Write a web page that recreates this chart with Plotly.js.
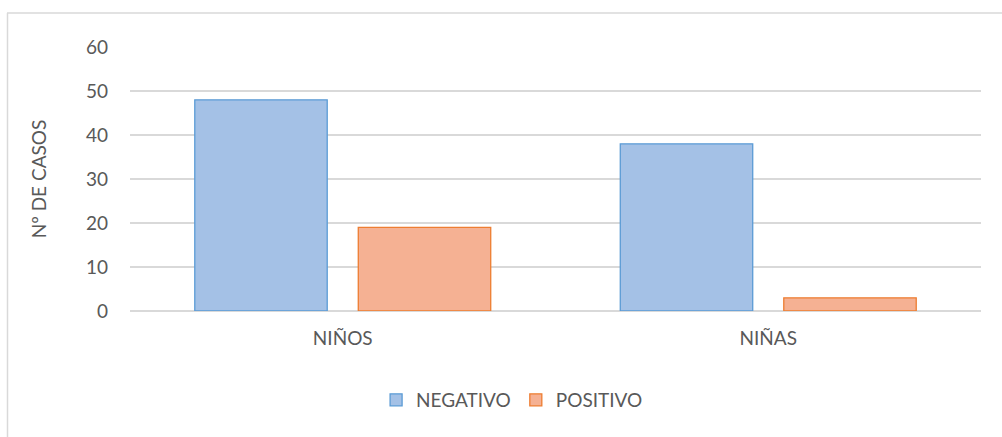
<!DOCTYPE html>
<html>
<head>
<meta charset="utf-8">
<script src="https://cdn.plot.ly/plotly-3.0.1.min.js"></script>
<style>html,body{margin:0;padding:0;background:#fff;}#chart{width:1002px;height:437px;}</style>
</head>
<body>
<div id="chart"></div>
<script>
const categories = ["NIÑOS", "NIÑAS"];
const negativo = [48, 38];
const positivo = [19, 3];
const seriesNames = ["NEGATIVO", "POSITIVO"];
const yTicks = [0, 10, 20, 30, 40, 50, 60];

const font = "Lato, 'Open Sans', 'Liberation Sans', sans-serif";

const traces = [
  {type: "bar", name: seriesNames[0], x: categories, y: negativo,
   marker: {color: "#a4c1e6", line: {color: "#5b9bd5", width: 1.3}}, hoverinfo: "skip"},
  {type: "bar", name: seriesNames[1], x: categories, y: positivo,
   marker: {color: "#f5b193", line: {color: "#ed7d31", width: 1.3}}, hoverinfo: "skip"}
];

const layout = {
  width: 1002, height: 437,
  margin: {l: 130, r: 21, t: 47, b: 126},
  paper_bgcolor: "#fff", plot_bgcolor: "#fff",
  barmode: "group", bargap: 0.2315, bargroupgap: 0.19,
  font: {family: font, color: "#595959", size: 19},
  xaxis: {
    type: "category", showgrid: false, zeroline: false, showline: false,
    ticks: "", tickfont: {size: 19, color: "#595959"}, ticklabelstandoff: 14
  },
  yaxis: {
    range: [0, 60], tickvals: yTicks, ticktext: yTicks.map(String),
    showgrid: true, gridcolor: "#d9d9d9", gridwidth: 1.3,
    zeroline: true, zerolinecolor: "#d9d9d9", zerolinewidth: 1.3,
    showline: false, ticks: "", ticklabelstandoff: 21,
    tickfont: {size: 19, color: "#595959"},
    title: {text: "Nº DE CASOS", font: {size: 19, color: "#595959"}, standoff: 34}
  },
  showlegend: true,
  legend: {
    orientation: "h", x: 0.449, xanchor: "center", y: -0.337, yanchor: "middle",
    font: {size: 19, color: "#595959"}, itemwidth: 30, tracegroupgap: 0
  },
  shapes: [
    {type: "line", xref: "paper", yref: "paper", x0: (7 - 130) / 851, x1: (1002 - 130) / 851,
     y0: (311 - 13) / 264, y1: (311 - 13) / 264, line: {color: "#d9d9d9", width: 1.5}},
    {type: "line", xref: "paper", yref: "paper", x0: (7.5 - 130) / 851, x1: (7.5 - 130) / 851,
     y0: (311 - 13) / 264, y1: (311 - 437) / 264, line: {color: "#d9d9d9", width: 1.5}}
  ]
};

Plotly.newPlot("chart", traces, layout, {displayModeBar: false, staticPlot: true});
</script>
</body>
</html>
